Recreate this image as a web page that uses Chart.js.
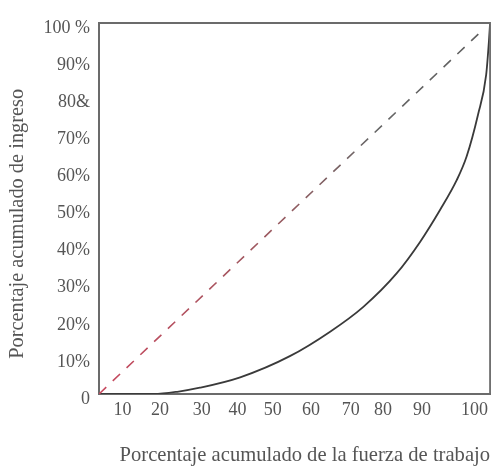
<!DOCTYPE html>
<html lang="es">
<head>
  <meta charset="UTF-8" />
  <title>Curva de Lorenz</title>
  <script src="https://cdn.jsdelivr.net/npm/chart.js"></script>
  <style>
    * { margin: 0; padding: 0; box-sizing: border-box; }
    body { background: #ffffff; width: 493px; height: 468px; overflow: hidden; }
    .wrap { position: relative; width: 493px; height: 468px; }
  </style>
</head>
<body>
  <div class="wrap">
    <canvas id="lorenz"></canvas>
  </div>

<script>
  // curva de Lorenz
  const curveX = [0, 14, 20, 25.8, 36.1, 48.8, 59.1, 67.6, 76.1, 82.1, 87.2, 91.5, 94.0, 96.9, 99.0, 99.7, 100];
  const curveY = [0, 0, 0.6, 1.7, 4.5, 10.2, 16.8, 23.5, 32.5, 41.0, 49.6, 57.7, 64.0, 75.2, 86, 94.9, 100];

  // linea de igualdad (diagonal)
  const equalX = [0, 97];
  const equalY = [0, 97];

  // etiquetas de los ejes, tal como aparecen en la figura
  const xTickLabels = ['10', '20', '30', '40', '50', '60', '70', '80', '90', '100'];
  const xTickAt = [6.0, 15.6, 26.3, 35.4, 44.4, 54.2, 64.4, 72.6, 82.6, 96.0];
  const yTickLabels = ['0', '10%', '20%', '30%', '40%', '50%', '60%', '70%', '80&', '90%', '100 %'];

  const xTitle = 'Porcentaje acumulado de la fuerza de trabajo';
  const yTitle = 'Porcentaje acumulado de ingreso';

  const serif = 'Liberation Serif';
  const textColor = '#555555';
  const frameColor = '#6b6b6b';

  const toPoints = (xs, ys) => xs.map((x, i) => ({ x: x, y: ys[i] }));

  // marco superior y derecho del grafico
  const framePlugin = {
    id: 'frame',
    afterDatasetsDraw(chart) {
      const { ctx, chartArea: a } = chart;
      ctx.save();
      ctx.strokeStyle = frameColor;
      ctx.lineWidth = 1.8;
      ctx.beginPath();
      ctx.moveTo(a.left, a.top);
      ctx.lineTo(a.right, a.top);
      ctx.lineTo(a.right, a.bottom);
      ctx.stroke();
      ctx.restore();
    }
  };

  function dashColor(context) {
    const area = context.chart.chartArea;
    if (!area) return '#666';
    const g = context.chart.ctx.createLinearGradient(0, area.bottom, 0, area.top);
    g.addColorStop(0, '#c8485e');
    g.addColorStop(0.45, '#9a5a60');
    g.addColorStop(0.7, '#666666');
    g.addColorStop(1, '#5e5e5e');
    return g;
  }

  const ctx = document.getElementById('lorenz').getContext('2d');
  new Chart(ctx, {
    type: 'line',
    data: {
      datasets: [
        {
          label: 'Igualdad',
          data: toPoints(equalX, equalY),
          borderColor: dashColor,
          borderWidth: 1.6,
          borderDash: [10, 9],
          pointRadius: 0,
          fill: false
        },
        {
          label: 'Lorenz',
          data: toPoints(curveX, curveY),
          borderColor: '#3a3a3a',
          borderWidth: 1.8,
          pointRadius: 0,
          cubicInterpolationMode: 'monotone',
          fill: false
        }
      ]
    },
    options: {
      responsive: true,
      maintainAspectRatio: false,
      animation: false,
      layout: { padding: { top: 23, right: 2, left: 0, bottom: 0 } },
      plugins: {
        legend: { display: false },
        tooltip: { enabled: false }
      },
      scales: {
        x: {
          type: 'linear',
          min: 0,
          max: 100,
          grid: { display: false, drawTicks: false },
          border: { display: true, color: frameColor, width: 2 },
          afterBuildTicks(scale) {
            scale.ticks = xTickAt.map(v => ({ value: v }));
          },
          afterFit(scale) { scale.height = 74; },
          ticks: {
            autoSkip: false,
            maxRotation: 0,
            padding: 5,
            color: textColor,
            font: { family: serif, size: 18 },
            callback: (value, index) => xTickLabels[index]
          },
          title: {
            display: true,
            text: xTitle,
            align: 'end',
            color: textColor,
            font: { family: serif, size: 20.6 },
            padding: { top: 0, bottom: 0 }
          }
        },
        y: {
          type: 'linear',
          min: 0,
          max: 100,
          grid: { display: false, drawTicks: false },
          border: { display: true, color: frameColor, width: 2 },
          afterFit(scale) { scale.width = 99; },
          ticks: {
            stepSize: 10,
            padding: 9,
            labelOffset: 5,
            color: textColor,
            font: { family: serif, size: 18 },
            callback: (value, index) => yTickLabels[index]
          },
          title: {
            display: true,
            text: yTitle + '\u00a0\u00a0\u00a0\u00a0\u00a0\u00a0',
            color: textColor,
            font: { family: serif, size: 20.4 },
            padding: { top: 5, bottom: 0 }
          }
        }
      }
    },
    plugins: [framePlugin]
  });
</script>
</body>
</html>
